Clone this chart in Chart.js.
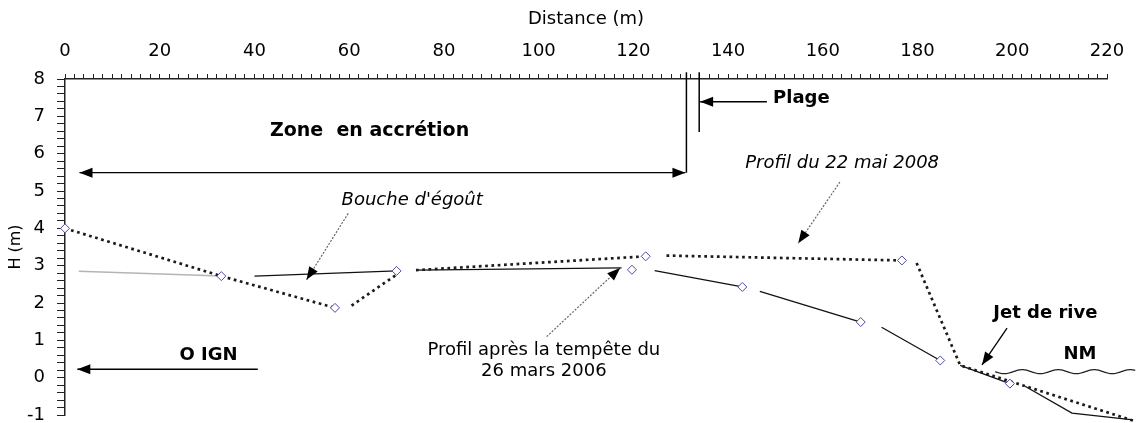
<!DOCTYPE html>
<html><head><meta charset="utf-8">
<script src="https://cdn.jsdelivr.net/npm/chart.js@4.4.1/dist/chart.umd.min.js"></script>
<style>html,body{margin:0;padding:0;background:#fff;overflow:hidden}#wrap{width:1136px;height:423px;position:relative}</style>
</head><body>
<div id="wrap"><canvas id="c" width="1136" height="423"></canvas></div>
<script>
// ---- tick labels ----
const xTickLabels = [0, 20, 40, 60, 80, 100, 120, 140, 160, 180, 200, 220];
const yTickLabels = [-1, 0, 1, 2, 3, 4, 5, 6, 7, 8];

// ---- Profil du 22 mai 2008 (pointillé) ; null = coupure du tracé ----
const profil2008X = [0, 33, 57, null, 60.5, 70, null, 74.1, 122.6, null, 127, 176.7, null, 179.8, 189, 225.5];
const profil2008H = [4.0, 2.72, 1.87, null, 1.93, 2.76, null, 2.88, 3.25, null, 3.27, 3.14, null, 3.07, 0.33, -1.15];

// ---- Profil après la tempête du 26 mars 2006 (trait plein) ----
const profil2006X = [40, 70, null, 74.1, 117.5, null, 124.5, 143, null, 146.7, 168, null, 172.4, 184.8, null, 189, 199.5, null, 202.7, 212.6, 225.5];
const profil2006H = [2.72, 2.86, null, 2.88, 2.94, null, 2.87, 2.43, null, 2.31, 1.49, null, 1.35, 0.46, null, 0.33, -0.16, null, -0.23, -0.95, -1.13];

// ---- segment gris ----
const profilGrisX = [2.9, 33];
const profilGrisH = [2.85, 2.72];

// ---- points mesurés (losanges) ----
const marques2008X = [0, 33, 57, 70, 122.6, 176.7];
const marques2008H = [4.0, 2.72, 1.87, 2.86, 3.25, 3.14];
const marques2006X = [119.7, 143, 168, 184.8, 199.5];
const marques2006H = [2.89, 2.43, 1.49, 0.46, -0.16];

function toPts(xs, hs) {
  return xs.map((x, i) => x === null ? { x: xs[i - 1], y: null } : { x: x, y: hs[i] });
}

const FONT = "'DejaVu Sans'";
Chart.defaults.font.family = FONT;
Chart.defaults.color = '#000';

const annot = {
  id: 'annot',
  afterDatasetsDraw(chart) {
    const ctx = chart.ctx, sx = chart.scales.x, sy = chart.scales.y;
    const X = v => sx.getPixelForValue(v), Y = v => sy.getPixelForValue(v);
    function seg(x1, y1, x2, y2, w, c, dash) {
      ctx.save();
      ctx.beginPath();
      ctx.strokeStyle = c; ctx.lineWidth = w;
      ctx.setLineDash(dash || []);
      ctx.moveTo(X(x1), Y(y1)); ctx.lineTo(X(x2), Y(y2));
      ctx.stroke();
      ctx.restore();
    }
    function head(x1, y1, x2, y2, len, hw) {
      const ax = X(x1), ay = Y(y1), bx = X(x2), by = Y(y2);
      const a = Math.atan2(by - ay, bx - ax);
      const cx = bx - len * Math.cos(a), cy = by - len * Math.sin(a);
      ctx.save();
      ctx.fillStyle = '#000';
      ctx.beginPath();
      ctx.moveTo(bx, by);
      ctx.lineTo(cx + hw * Math.sin(a), cy - hw * Math.cos(a));
      ctx.lineTo(cx - hw * Math.sin(a), cy + hw * Math.cos(a));
      ctx.closePath();
      ctx.fill();
      ctx.restore();
    }
    function arrow(x1, y1, x2, y2, w, c, dash) {
      seg(x1, y1, x2, y2, w, c, dash);
      head(x1, y1, x2, y2, 13, 5);
    }
    function text(s, x, y, font, align) {
      ctx.save();
      ctx.font = font; ctx.fillStyle = '#000';
      ctx.textAlign = align || 'center'; ctx.textBaseline = 'middle';
      ctx.fillText(s, X(x), Y(y));
      ctx.restore();
    }
    const B = 'bold 18px ' + FONT, I = 'italic 18px ' + FONT, R = '18px ' + FONT;
    const dotted = [2, 1.5];

    // limites plage / zone
    seg(131.2, 8.18, 131.2, 5.49, 1.5, '#000');
    seg(133.9, 8.18, 133.9, 6.58, 1.5, '#000');
    arrow(148.2, 7.39, 134.1, 7.39, 1.3, '#000');
    text('Plage', 149.5, 7.47, B, 'left');

    // zone en accrétion
    seg(3.06, 5.49, 131.0, 5.49, 1.3, '#000');
    head(60, 5.49, 131.0, 5.49, 13, 5);
    head(60, 5.49, 3.06, 5.49, 13, 5);
    text('Zone  en accrétion', 64.3, 6.61, 'bold 19px ' + FONT);

    // O IGN
    arrow(40.7, 0.225, 2.6, 0.225, 1.3, '#000');
    text('O IGN', 30.3, 0.61, B);

    // Bouche d'égoût
    text("Bouche d'égoût", 58.4, 4.74, I, 'left');
    arrow(59.8, 4.40, 51.0, 2.62, 1.2, '#666', dotted);

    // Profil du 22 mai 2008
    text('Profil du 22 mai 2008', 143.6, 5.75, I, 'left');
    arrow(163.6, 5.24, 154.8, 3.60, 1.2, '#666', dotted);

    // Profil après la tempête
    text('Profil après la tempête du', 101.1, 0.74, R);
    text('26 mars 2006', 101.1, 0.16, R);
    arrow(101.7, 1.10, 117.2, 2.94, 1.2, '#666', dotted);

    // Jet de rive
    text('Jet de rive', 196.0, 1.73, B, 'left');
    arrow(198.9, 1.33, 193.6, 0.34, 1.3, '#000');

    // NM + vague
    text('NM', 214.3, 0.63, B);
    const p1 = X(196.4), p2 = X(226), yw = Y(0.16);
    ctx.save();
    ctx.beginPath(); ctx.strokeStyle = '#222'; ctx.lineWidth = 1.3;
    for (let p = p1; p <= p2; p += 1) {
      const yy = yw + 2 * Math.sin((p - p1) / 36 * 2 * Math.PI);
      if (p === p1) ctx.moveTo(p, yy); else ctx.lineTo(p, yy);
    }
    ctx.stroke(); ctx.restore();
  }
};

const lineBase = { showLine: true, pointRadius: 0, spanGaps: false, clip: false, order: 2 };

new Chart(document.getElementById('c'), {
  type: 'scatter',
  data: {
    datasets: [
      { label: 'Points 2008', data: toPts(marques2008X, marques2008H), showLine: false, pointStyle: 'rectRot',
        pointRadius: 4.5, pointBorderColor: '#4a4aa8', pointBackgroundColor: '#fff', pointBorderWidth: 1, clip: false, order: 0 },
      { label: 'Points 2006', data: toPts(marques2006X, marques2006H), showLine: false, pointStyle: 'rectRot',
        pointRadius: 4.5, pointBorderColor: '#4a4aa8', pointBackgroundColor: '#fff', pointBorderWidth: 1, clip: false, order: 0 },
      Object.assign({ label: 'Profil du 22 mai 2008', data: toPts(profil2008X, profil2008H),
        borderColor: '#1a1a1a', borderWidth: 2.7, borderDash: [2.7, 3.6], borderCapStyle: 'butt' }, lineBase),
      Object.assign({ label: 'Profil 26 mars 2006', data: toPts(profil2006X, profil2006H),
        borderColor: '#111', borderWidth: 1.3 }, lineBase),
      Object.assign({ label: 'gris', data: toPts(profilGrisX, profilGrisH),
        borderColor: '#b4b4b4', borderWidth: 1.5 }, lineBase)
    ]
  },
  options: {
    responsive: false,
    animation: false,
    devicePixelRatio: 1,
    layout: { padding: { left: 0, right: 29, top: 0, bottom: 8 } },
    plugins: { legend: { display: false }, tooltip: { enabled: false } },
    scales: {
      x: {
        type: 'linear', position: 'top', min: 0, max: 220,
        afterFit: s => { s.height = 79; s.paddingLeft = 0; s.paddingRight = 0; },
        border: { display: true, color: '#222', width: 1.5 },
        grid: { drawOnChartArea: false, drawTicks: true, tickLength: 5, tickColor: '#222', tickWidth: 1 },
        ticks: { stepSize: 2, autoSkip: false, maxRotation: 0, padding: 12, color: '#000',
          font: { size: 18, family: FONT },
          callback: v => xTickLabels.includes(Math.round(v)) && Math.abs(v - Math.round(v)) < 1e-6 ? String(Math.round(v)) : '' },
        title: { display: true, text: 'Distance (m)', color: '#000', font: { size: 18, family: FONT }, padding: { top: 9, bottom: 0 } }
      },
      y: {
        type: 'linear', position: 'left', min: -1, max: 8,
        afterFit: s => { s.width = 65; s.paddingTop = 0; s.paddingBottom = 0; },
        border: { display: true, color: '#222', width: 1.5 },
        grid: { drawOnChartArea: false, drawTicks: true, tickLength: 8, tickColor: '#222', tickWidth: 1 },
        ticks: { stepSize: 0.2, autoSkip: false, padding: 12, color: '#000',
          font: { size: 18, family: FONT },
          callback: v => (Math.abs(v - Math.round(v)) < 1e-6 && yTickLabels.includes(Math.round(v))) ? String(Math.round(v)) : '' },
        title: { display: true, text: 'H (m)', color: '#000', font: { size: 16, family: FONT }, padding: { top: 6, bottom: 0 } }
      }
    }
  },
  plugins: [annot]
});
</script>
</body></html>
